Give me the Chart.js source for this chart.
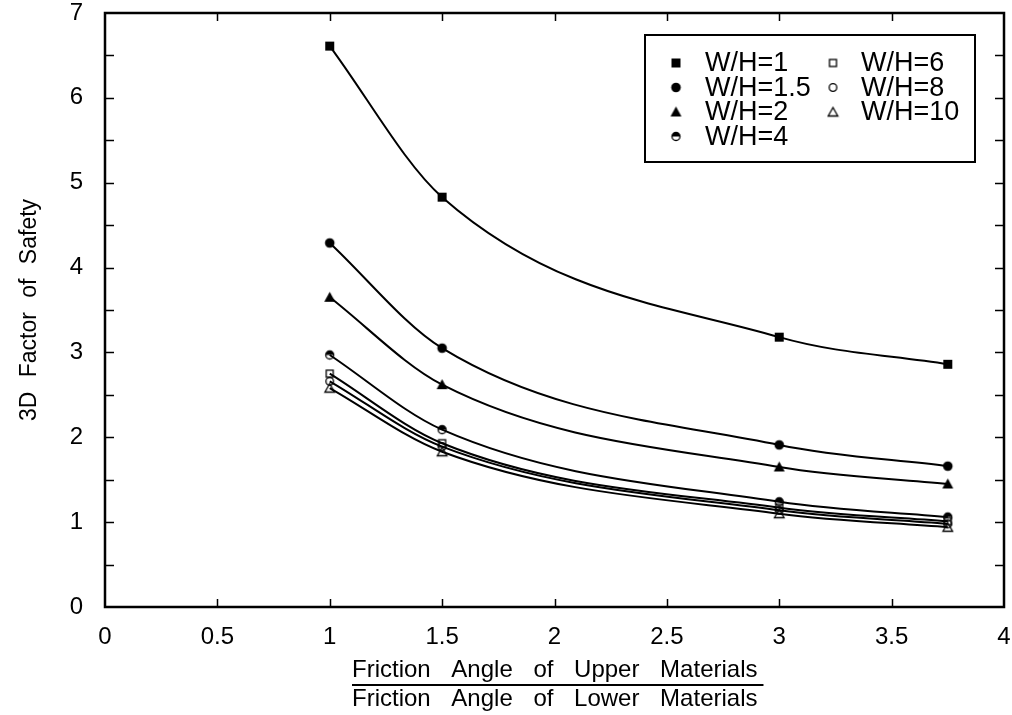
<!DOCTYPE html>
<html>
<head>
<meta charset="utf-8">
<title>3D Factor of Safety</title>
<script src="https://cdn.jsdelivr.net/npm/chart.js@4/dist/chart.umd.min.js"></script>
<style>
  html, body { margin: 0; padding: 0; background: #fff; }
  #wrap { width: 1012px; height: 715px; }
</style>
</head>
<body>
<div id="wrap"><canvas id="fos"></canvas></div>
<script>
// Rapport des angles de frottement (haut / bas)
const ratios = [1, 1.5, 3, 3.75];

// Facteur de sécurité 3D pour chaque W/H
const wh1 = [6.61, 4.83, 3.18, 2.86];
const wh15 = [4.29, 3.05, 1.91, 1.66];
const wh2 = [3.65, 2.62, 1.65, 1.45];
const wh4 = [2.97, 2.09, 1.24, 1.06];
const wh6 = [2.75, 1.93, 1.17, 1.01];
const wh8 = [2.66, 1.89, 1.14, 0.98];
const wh10 = [2.58, 1.83, 1.10, 0.94];

const seriesLabels = ["W/H=1", "W/H=1.5", "W/H=2", "W/H=4", "W/H=6", "W/H=8", "W/H=10"];
const seriesValues = [wh1, wh15, wh2, wh4, wh6, wh8, wh10];
const markerKinds = ["squareFill", "circleFill", "triFill", "circleHalf", "squareOpen", "circleOpen", "triOpen"];

const xTitle = ["Friction Angle of Upper Materials", "Friction Angle of Lower Materials"];
const yTitle = "3D Factor of Safety";

const sans = "'Liberation Sans', Arial, sans-serif";

// Petits canvas pour les symboles
function makeMarker(kind) {
  const c = document.createElement("canvas");
  c.width = 13;
  c.height = 13;
  const g = c.getContext("2d");
  g.fillStyle = "#000";
  g.strokeStyle = "#000";
  g.lineWidth = 1.3;
  const m = 6.5;
  if (kind === "squareFill") {
    g.fillRect(m - 4.5, m - 4.5, 9, 9);
  } else if (kind === "squareOpen") {
    g.strokeRect(m - 3.5, m - 3.5, 7, 7);
  } else if (kind === "circleFill") {
    g.beginPath(); g.arc(m, m, 4.8, 0, Math.PI * 2); g.fill();
  } else if (kind === "circleOpen") {
    g.beginPath(); g.arc(m, m, 3.8, 0, Math.PI * 2); g.stroke();
  } else if (kind === "circleHalf") {
    g.beginPath(); g.arc(m, m, 4, Math.PI, Math.PI * 2); g.fill();
    g.beginPath(); g.arc(m, m, 4, 0, Math.PI * 2); g.stroke();
  } else if (kind === "triFill") {
    g.beginPath(); g.moveTo(m, m - 5.5); g.lineTo(m + 5.5, m + 4.5); g.lineTo(m - 5.5, m + 4.5); g.closePath(); g.fill();
  } else if (kind === "triOpen") {
    g.beginPath(); g.moveTo(m, m - 4.5); g.lineTo(m + 4.8, m + 4); g.lineTo(m - 4.8, m + 4); g.closePath(); g.stroke();
  }
  return c;
}
const markers = markerKinds.map(makeMarker);

const datasets = seriesLabels.map((label, i) => ({
  label: label,
  data: ratios.map((x, j) => ({ x: x, y: seriesValues[i][j] })),
  borderColor: "#000",
  backgroundColor: "#000",
  borderWidth: 2,
  pointStyle: markers[i],
  pointRadius: 5,
  cubicInterpolationMode: "monotone",
  fill: false,
}));

// Cadre, graduations vers l'intérieur, légende encadrée, titre de l'axe x en fraction
const framePlugin = {
  id: "frame",
  beforeDraw(chart) {
    // espacement des mots plus large, comme dans l'original
    if ("wordSpacing" in chart.ctx) chart.ctx.wordSpacing = "8px";
  },
  afterDraw(chart) {
    const ctx = chart.ctx;
    const a = chart.chartArea;
    const xs = chart.scales.x;
    const ys = chart.scales.y;
    ctx.save();
    ctx.strokeStyle = "#000";
    ctx.lineWidth = 1.5;
    for (let v = 0.5; v < 4; v += 0.5) {
      const px = Math.round(xs.getPixelForValue(v)) + 0.5;
      ctx.beginPath();
      ctx.moveTo(px, a.bottom); ctx.lineTo(px, a.bottom - 8);
      ctx.moveTo(px, a.top); ctx.lineTo(px, a.top + 8);
      ctx.stroke();
    }
    for (let v = 0.5; v < 7; v += 0.5) {
      const py = Math.round(ys.getPixelForValue(v)) + 0.5;
      ctx.beginPath();
      ctx.moveTo(a.left, py); ctx.lineTo(a.left + 9, py);
      ctx.moveTo(a.right, py); ctx.lineTo(a.right - 9, py);
      ctx.stroke();
    }
    ctx.lineWidth = 2.5;
    ctx.strokeRect(a.left, a.top, a.right - a.left, a.bottom - a.top);

    // légende
    ctx.lineWidth = 2;
    ctx.strokeRect(645, 35, 330, 127);
    ctx.font = "27px " + sans;
    ctx.fillStyle = "#000";
    ctx.textBaseline = "middle";
    ctx.textAlign = "left";
    chart.data.datasets.forEach((ds, i) => {
      const col = i < 4 ? 0 : 1;
      const row = i < 4 ? i : i - 4;
      const mx = col === 0 ? 676 : 833;
      const my = 63 + row * 24.5;
      const img = ds.pointStyle;
      ctx.drawImage(img, mx - img.width / 2, my - img.height / 2);
      ctx.fillText(ds.label, col === 0 ? 705 : 861, my + 1);
    });

    // titre de l'axe x : deux lignes séparées par un trait
    ctx.font = "24px " + sans;
    if ("wordSpacing" in ctx) ctx.wordSpacing = "14px";
    ctx.textBaseline = "alphabetic";
    ctx.textAlign = "left";
    const tx = 352;
    ctx.fillText(xTitle[0], tx, 677);
    ctx.fillText(xTitle[1], tx, 706);
    const w = Math.max(ctx.measureText(xTitle[0]).width, ctx.measureText(xTitle[1]).width);
    ctx.lineWidth = 2;
    ctx.beginPath();
    ctx.moveTo(tx, 685);
    ctx.lineTo(tx + w + 6, 685);
    ctx.stroke();
    ctx.restore();
    if ("wordSpacing" in ctx) ctx.wordSpacing = "0px";
  },
};

const tickFont = { family: sans, size: 24 };

new Chart(document.getElementById("fos"), {
  type: "line",
  data: { datasets: datasets },
  options: {
    responsive: true,
    maintainAspectRatio: false,
    animation: false,
    layout: { padding: { top: 13, right: 8, left: 0, bottom: 0 } },
    plugins: { legend: { display: false }, tooltip: { enabled: false } },
    scales: {
      x: {
        type: "linear",
        min: 0,
        max: 4,
        grid: { display: false },
        border: { display: false },
        ticks: {
          stepSize: 0.5,
          color: "#000",
          font: tickFont,
          padding: 8,
          maxRotation: 0,
          callback: (v) => String(v),
        },
        afterFit(s) {
          s.height = 108;
          s.paddingLeft = 0;
          s.paddingRight = 0;
        },
      },
      y: {
        type: "linear",
        min: 0,
        max: 7,
        grid: { display: false },
        border: { display: false },
        ticks: {
          stepSize: 0.5,
          color: "#000",
          font: tickFont,
          padding: 14,
          callback: (v) => (Number.isInteger(v) ? String(v) : ""),
        },
        title: {
          display: true,
          text: yTitle,
          color: "#000",
          font: { family: sans, size: 23 },
          padding: { top: 16, bottom: 0 },
        },
        afterFit(s) {
          s.width = 105;
          s.paddingTop = 0;
          s.paddingBottom = 0;
        },
      },
    },
  },
  plugins: [framePlugin],
});
</script>
</body>
</html>
